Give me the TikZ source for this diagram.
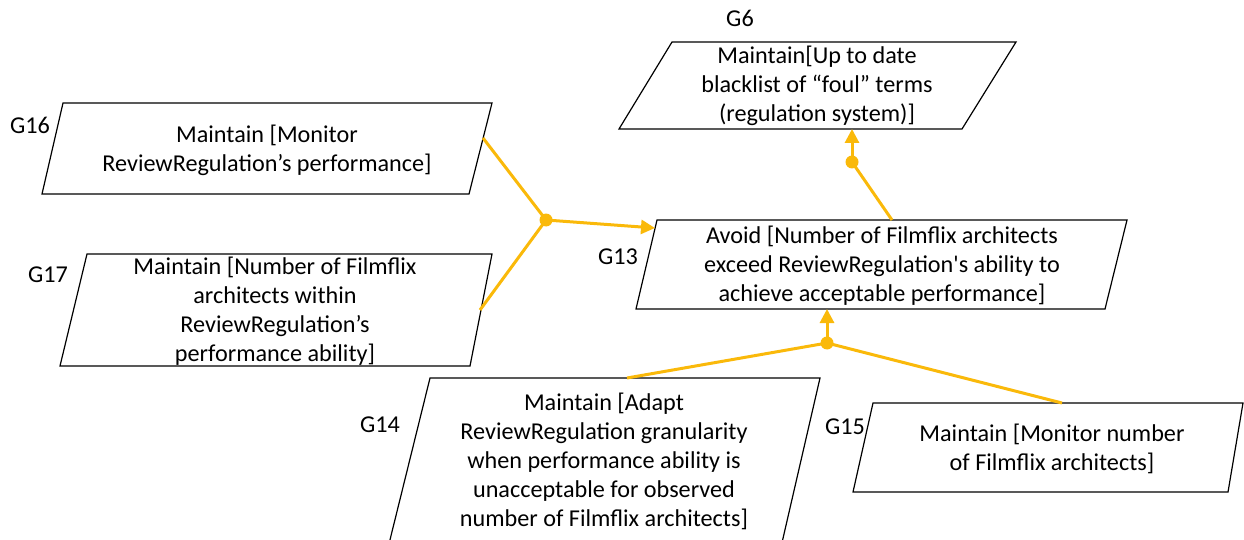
\documentclass[tikz,border=0pt]{standalone}
\usepackage{fontspec}
\setmainfont{Carlito}
\usetikzlibrary{arrows.meta}
\definecolor{gold}{RGB}{250,185,10}
\begin{document}
\begin{tikzpicture}[x=1pt,y=-1pt,
  box/.style={draw=black,line width=1.2pt,line join=miter},
  txt/.style={align=center,font=\fontsize{24.2}{29}\selectfont,inner sep=0pt},
  lbl/.style={font=\fontsize{24.2}{29}\selectfont,inner sep=0pt},
  link/.style={draw=gold,line width=3pt},
  arr/.style={link,-{Triangle[length=14pt,width=14pt]}},
  dot/.style={circle,fill=gold,inner sep=0pt,minimum size=13pt}]
\useasboundingbox (0,0) rectangle (1244,540);
\clip (0,0) rectangle (1244,540);

% parallelograms
\draw[box] (672,42) -- (1016,42) -- (962,129) -- (619,129) -- cycle;   % G6
\draw[box] (63,103) -- (492,103) -- (469,194) -- (42,194) -- cycle;    % G16
\draw[box] (87,254) -- (492,254) -- (470,366) -- (60,366) -- cycle;    % G17
\draw[box] (657,220) -- (1127,220) -- (1105,309) -- (636,309) -- cycle; % G13
\draw[box] (385,560) -- (430,378) -- (820,378) -- (778,560);           % G14
\draw[box] (873,403) -- (1243,403) -- (1228,492) -- (853,492) -- cycle; % G15

% texts
\node[txt] (t6) at (817,86) {Maintain[Up to date\\blacklist of “foul” terms\\(regulation system)]};
\node[txt] (t16) at (267,150) {Maintain [Monitor\\ReviewRegulation’s performance]};
\node[txt] (t17) at (275,311) {Maintain [Number of Filmflix\\architects within\\ReviewRegulation’s\\performance ability]};
\node[txt] (t13) at (882,266) {Avoid [Number of Filmflix architects\\exceed ReviewRegulation\textquotesingle s ability to\\achieve acceptable performance]};
\node[txt] (t14) at (604,461) {Maintain [Adapt\\ReviewRegulation granularity\\when performance ability is\\unacceptable for observed\\number of Filmflix architects]};
\node[txt] (t15) at (1052,449) {Maintain [Monitor number\\of Filmflix architects]};

% labels
\node[lbl] (l6) at (740,18) {G6};
\node[lbl] (l16) at (30,125) {G16};
\node[lbl] (l17) at (48,275) {G17};
\node[lbl] (l13) at (618,257) {G13};
\node[lbl] (l14) at (380,425) {G14};
\node[lbl] (l15) at (845,427) {G15};

% connection points on the boxes
\coordinate (g16r) at (483,138);
\coordinate (g17r) at (480,310);
\coordinate (g13l) at (655,228);
\coordinate (g13t) at (892,220);
\coordinate (g6b) at (852,129);
\coordinate (g13b) at (827,309);
\coordinate (g14t) at (627,378);
\coordinate (g15t) at (1062,403);

% junctions
\node[dot] (j1) at (546,220) {};
\node[dot] (j2) at (852,162) {};
\node[dot] (j3) at (827,343) {};

\draw[link] (g16r) -- (j1.center);
\draw[link] (g17r) -- (j1.center);
\draw[arr] (j1.center) -- (g13l);

\draw[link] (g13t) -- (j2.center);
\draw[arr] (j2.center) -- (g6b);

\draw[link] (g14t) -- (j3.center);
\draw[link] (g15t) -- (j3.center);
\draw[arr] (j3.center) -- (g13b);
\end{tikzpicture}
\end{document}
